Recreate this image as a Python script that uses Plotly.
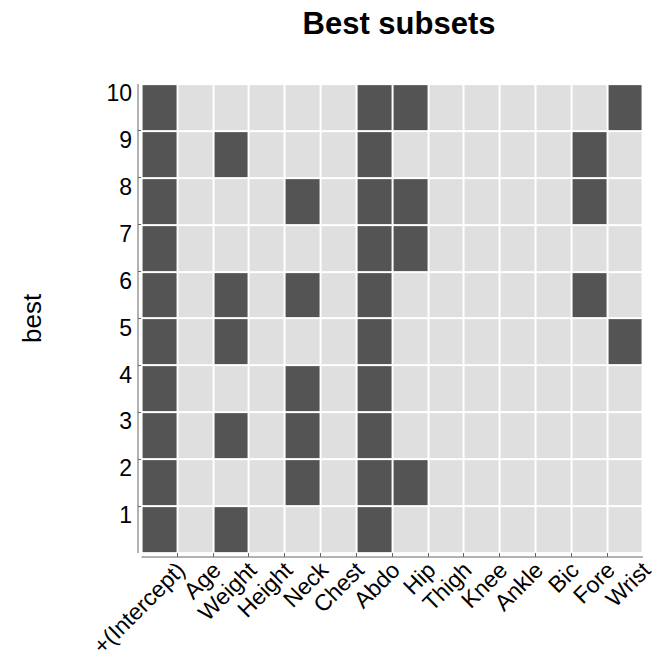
import plotly.graph_objects as go

# Predictor names (columns) and subset sizes (rows)
predictors = ["+(Intercept)", "Age", "Weight", "Height", "Neck", "Chest", "Abdo",
              "Hip", "Thigh", "Knee", "Ankle", "Bic", "Fore", "Wrist"]
best_rows = [1, 2, 3, 4, 5, 6, 7, 8, 9, 10]

# Variables included in each of the ten best models (1 = included)
inc_1 = [1, 0, 1, 0, 0, 0, 1, 0, 0, 0, 0, 0, 0, 0]
inc_2 = [1, 0, 0, 0, 1, 0, 1, 1, 0, 0, 0, 0, 0, 0]
inc_3 = [1, 0, 1, 0, 1, 0, 1, 0, 0, 0, 0, 0, 0, 0]
inc_4 = [1, 0, 0, 0, 1, 0, 1, 0, 0, 0, 0, 0, 0, 0]
inc_5 = [1, 0, 1, 0, 0, 0, 1, 0, 0, 0, 0, 0, 0, 1]
inc_6 = [1, 0, 1, 0, 1, 0, 1, 0, 0, 0, 0, 0, 1, 0]
inc_7 = [1, 0, 0, 0, 0, 0, 1, 1, 0, 0, 0, 0, 0, 0]
inc_8 = [1, 0, 0, 0, 1, 0, 1, 1, 0, 0, 0, 0, 1, 0]
inc_9 = [1, 0, 1, 0, 0, 0, 1, 0, 0, 0, 0, 0, 1, 0]
inc_10 = [1, 0, 0, 0, 0, 0, 1, 1, 0, 0, 0, 0, 0, 1]

inclusion = [inc_1, inc_2, inc_3, inc_4, inc_5, inc_6, inc_7, inc_8, inc_9, inc_10]

FONT = "Liberation Sans, Arial, Helvetica, sans-serif"
DARK = "#545454"
LIGHT = "#dfdfdf"
AXIS = "#666666"

n_cols = len(predictors)
n_rows = len(best_rows)
col_pos = list(range(n_cols))

fig = go.Figure(go.Heatmap(
    z=inclusion,
    x=col_pos,
    y=best_rows,
    zmin=0, zmax=1,
    colorscale=[[0, LIGHT], [0.5, LIGHT], [0.5, DARK], [1, DARK]],
    showscale=False,
    xgap=2, ygap=2,
    hoverinfo="skip",
))

# Axis lines drawn R-style: detached from each other
fig.add_shape(type="line", xref="x domain", yref="y",
              x0=0, x1=0, y0=best_rows[0] - 0.5, y1=best_rows[-1] + 0.5,
              line=dict(color=AXIS, width=1))
fig.add_shape(type="line", xref="x", yref="y domain",
              x0=-0.5, x1=n_cols - 0.5, y0=0, y1=0,
              line=dict(color=AXIS, width=1))

fig.update_xaxes(
    range=[-0.598, n_cols - 0.5 + 0.002],
    tickvals=[c + 0.5 for c in col_pos],
    ticktext=predictors,
    tickangle=-45,
    ticks="inside", ticklen=4, tickcolor=AXIS, tickwidth=1,
    showgrid=False, zeroline=False, showline=False,
    tickfont=dict(family=FONT, size=23, color="black"),
    ticklabelshift=1,
    ticklabelstandoff=-6,
    automargin=False,
    fixedrange=True,
)
fig.update_yaxes(
    range=[0.415, n_rows + 0.5 + 0.002],
    tickvals=[r + 0.5 for r in best_rows],
    ticktext=[str(r) for r in best_rows],
    ticks="inside", ticklen=3, tickcolor=AXIS, tickwidth=1,
    showgrid=False, zeroline=False, showline=False,
    tickfont=dict(family=FONT, size=23, color="black"),
    ticklabelshift=9,
    ticklabelstandoff=5,
    automargin=False,
    fixedrange=True,
)

fig.add_annotation(
    text="best", xref="paper", yref="paper",
    x=(32 - 138) / 505, y=(557 - 318) / 473,
    textangle=-90, showarrow=False,
    font=dict(family=FONT, size=26, color="black"),
    xanchor="center", yanchor="middle",
)

fig.update_layout(
    width=662, height=657,
    margin=dict(l=138, r=19, t=84, b=100, pad=0, autoexpand=False),
    paper_bgcolor="white", plot_bgcolor="white",
    title=dict(text="<b>Best subsets</b>", x=399 / 662, xanchor="center",
               y=1 - 23 / 657, yanchor="middle", yref="container",
               font=dict(family=FONT, size=31, color="black")),
    showlegend=False,
)

fig.write_html("out.html")
